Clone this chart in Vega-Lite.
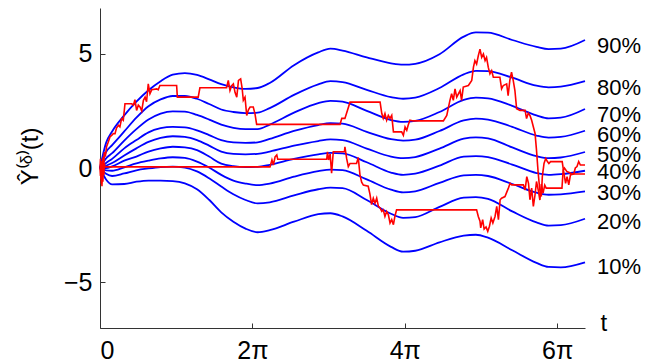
{
  "$schema": "https://vega.github.io/schema/vega-lite/v6.json",
  "width": 485,
  "height": 320,
  "autosize": "none",
  "padding": {"left": 100, "top": 8, "right": 80, "bottom": 34},
  "background": "white",
  "config": {
    "view": {"stroke": null},
    "font": "Liberation Sans",
    "axis": {"grid": false, "domainColor": "#333333", "tickColor": "#333333", "labelColor": "black", "titleColor": "black", "labelFont": "Liberation Sans", "titleFont": "Liberation Sans", "labelFontSize": 25, "titleFontSize": 24, "titleFontWeight": "normal", "tickSize": -5, "labelPadding": 14}
  },
  "datasets": {
    "quant": [
      {"t": 0, "q90": 0, "q80": 0, "q70": 0, "q60": 0, "q50": 0, "q40": 0, "q30": 0, "q20": 0, "q10": 0},
      {"t": 0.25, "q90": 1.1, "q80": 0.7, "q70": 0.42, "q60": 0.22, "q50": 0.1, "q40": 0.0, "q30": -0.1, "q20": -0.25, "q10": -0.5},
      {"t": 0.5, "q90": 1.6, "q80": 1.0, "q70": 0.65, "q60": 0.4, "q50": 0.22, "q40": 0.07, "q30": -0.12, "q20": -0.35, "q10": -0.72},
      {"t": 1, "q90": 2.3, "q80": 1.6, "q70": 1.2, "q60": 0.86, "q50": 0.55, "q40": 0.32, "q30": 0.03, "q20": -0.24, "q10": -0.7},
      {"t": 1.5, "q90": 2.9, "q80": 2.2, "q70": 1.7, "q60": 1.22, "q50": 0.86, "q40": 0.5, "q30": 0.2, "q20": -0.1, "q10": -0.6},
      {"t": 2, "q90": 3.4, "q80": 2.7, "q70": 2.12, "q60": 1.56, "q50": 1.14, "q40": 0.72, "q30": 0.32, "q20": -0.02, "q10": -0.55},
      {"t": 2.5, "q90": 3.8, "q80": 3.0, "q70": 2.38, "q60": 1.74, "q50": 1.32, "q40": 0.86, "q30": 0.42, "q20": 0.04, "q10": -0.55},
      {"t": 3, "q90": 4.08, "q80": 3.15, "q70": 2.48, "q60": 1.8, "q50": 1.39, "q40": 0.93, "q30": 0.47, "q20": 0.06, "q10": -0.57},
      {"t": 3.5, "q90": 4.15, "q80": 3.15, "q70": 2.47, "q60": 1.78, "q50": 1.36, "q40": 0.9, "q30": 0.44, "q20": 0.02, "q10": -0.67},
      {"t": 4, "q90": 4.07, "q80": 3.03, "q70": 2.32, "q60": 1.65, "q50": 1.22, "q40": 0.78, "q30": 0.28, "q20": -0.15, "q10": -0.93},
      {"t": 4.5, "q90": 3.88, "q80": 2.8, "q70": 2.12, "q60": 1.44, "q50": 0.98, "q40": 0.5, "q30": 0.02, "q20": -0.45, "q10": -1.39},
      {"t": 5, "q90": 3.67, "q80": 2.56, "q70": 1.9, "q60": 1.22, "q50": 0.72, "q40": 0.19, "q30": -0.3, "q20": -0.81, "q10": -1.94},
      {"t": 5.5, "q90": 3.53, "q80": 2.45, "q70": 1.76, "q60": 1.12, "q50": 0.62, "q40": 0.08, "q30": -0.55, "q20": -1.15, "q10": -2.35},
      {"t": 6, "q90": 3.46, "q80": 2.4, "q70": 1.7, "q60": 1.1, "q50": 0.6, "q40": 0.04, "q30": -0.68, "q20": -1.4, "q10": -2.65},
      {"t": 6.5, "q90": 3.5, "q80": 2.42, "q70": 1.7, "q60": 1.12, "q50": 0.62, "q40": 0.05, "q30": -0.75, "q20": -1.55, "q10": -2.81},
      {"t": 7, "q90": 3.72, "q80": 2.62, "q70": 1.9, "q60": 1.27, "q50": 0.72, "q40": 0.14, "q30": -0.68, "q20": -1.5, "q10": -2.72},
      {"t": 8, "q90": 4.5, "q80": 3.2, "q70": 2.42, "q60": 1.62, "q50": 0.98, "q40": 0.4, "q30": -0.38, "q20": -1.2, "q10": -2.35},
      {"t": 9, "q90": 5.06, "q80": 3.66, "q70": 2.84, "q60": 1.88, "q50": 1.18, "q40": 0.6, "q30": -0.14, "q20": -0.93, "q10": -2.02},
      {"t": 9.5, "q90": 5.22, "q80": 3.8, "q70": 2.94, "q60": 1.96, "q50": 1.25, "q40": 0.66, "q30": -0.07, "q20": -0.86, "q10": -1.98},
      {"t": 10, "q90": 5.14, "q80": 3.76, "q70": 2.9, "q60": 1.94, "q50": 1.22, "q40": 0.64, "q30": -0.09, "q20": -0.88, "q10": -2.12},
      {"t": 11, "q90": 4.84, "q80": 3.42, "q70": 2.5, "q60": 1.58, "q50": 0.85, "q40": 0.25, "q30": -0.5, "q20": -1.4, "q10": -2.75},
      {"t": 12, "q90": 4.58, "q80": 3.1, "q70": 2.1, "q60": 1.26, "q50": 0.5, "q40": -0.2, "q30": -0.95, "q20": -2.0, "q10": -3.45},
      {"t": 12.5, "q90": 4.52, "q80": 3.03, "q70": 2.02, "q60": 1.2, "q50": 0.43, "q40": -0.3, "q30": -1.07, "q20": -2.18, "q10": -3.66},
      {"t": 13, "q90": 4.56, "q80": 3.08, "q70": 2.06, "q60": 1.24, "q50": 0.48, "q40": -0.25, "q30": -1.02, "q20": -2.15, "q10": -3.62},
      {"t": 14, "q90": 4.98, "q80": 3.5, "q70": 2.45, "q60": 1.62, "q50": 0.85, "q40": 0.1, "q30": -0.65, "q20": -1.7, "q10": -3.25},
      {"t": 15, "q90": 5.75, "q80": 4.1, "q70": 2.98, "q60": 2.08, "q50": 1.28, "q40": 0.5, "q30": -0.32, "q20": -1.3, "q10": -2.96},
      {"t": 15.5, "q90": 5.93, "q80": 4.25, "q70": 3.08, "q60": 2.16, "q50": 1.34, "q40": 0.52, "q30": -0.3, "q20": -1.27, "q10": -2.92},
      {"t": 16, "q90": 5.92, "q80": 4.24, "q70": 3.05, "q60": 2.12, "q50": 1.3, "q40": 0.48, "q30": -0.35, "q20": -1.35, "q10": -3.05},
      {"t": 17, "q90": 5.6, "q80": 3.95, "q70": 2.72, "q60": 1.8, "q50": 0.9, "q40": 0.15, "q30": -0.7, "q20": -1.9, "q10": -3.6},
      {"t": 18, "q90": 5.3, "q80": 3.6, "q70": 2.3, "q60": 1.42, "q50": 0.52, "q40": -0.22, "q30": -1.08, "q20": -2.38, "q10": -4.15},
      {"t": 18.5, "q90": 5.2, "q80": 3.53, "q70": 2.17, "q60": 1.33, "q50": 0.43, "q40": -0.3, "q30": -1.17, "q20": -2.52, "q10": -4.33},
      {"t": 19, "q90": 5.22, "q80": 3.56, "q70": 2.2, "q60": 1.36, "q50": 0.46, "q40": -0.27, "q30": -1.15, "q20": -2.5, "q10": -4.35},
      {"t": 20, "q90": 5.6, "q80": 3.8, "q70": 2.58, "q60": 1.63, "q50": 0.7, "q40": -0.12, "q30": -1.02, "q20": -2.22, "q10": -4.13}
    ],
    "paths": [
      {"p": "A", "t": 0, "v": 0}, {"p": "A", "t": 0.02, "v": -0.35}, {"p": "A", "t": 0.04, "v": 0.3}, {"p": "A", "t": 0.06, "v": -0.7}, {"p": "A", "t": 0.08, "v": 0.1}, {"p": "A", "t": 0.1, "v": -0.5}, {"p": "A", "t": 0.12, "v": 0.45}, {"p": "A", "t": 0.15, "v": 0.1}, {"p": "A", "t": 0.18, "v": 0.7}, {"p": "A", "t": 0.22, "v": 0.5}, {"p": "A", "t": 0.27, "v": 0.93}, {"p": "A", "t": 0.33, "v": 1.1}, {"p": "A", "t": 0.41, "v": 1.36}, {"p": "A", "t": 0.5, "v": 1.45}, {"p": "A", "t": 0.55, "v": 1.51}, {"p": "A", "t": 0.62, "v": 1.5}, {"p": "A", "t": 0.68, "v": 1.75}, {"p": "A", "t": 0.76, "v": 1.87}, {"p": "A", "t": 0.82, "v": 1.8}, {"p": "A", "t": 0.89, "v": 2.16}, {"p": "A", "t": 0.96, "v": 2.09}, {"p": "A", "t": 1.03, "v": 2.81}, {"p": "A", "t": 1.31, "v": 2.81}, {"p": "A", "t": 1.38, "v": 2.75}, {"p": "A", "t": 1.44, "v": 2.99}, {"p": "A", "t": 1.51, "v": 2.52}, {"p": "A", "t": 1.58, "v": 2.75}, {"p": "A", "t": 1.65, "v": 2.67}, {"p": "A", "t": 1.72, "v": 2.5}, {"p": "A", "t": 1.79, "v": 2.96}, {"p": "A", "t": 1.86, "v": 3.1}, {"p": "A", "t": 1.92, "v": 2.9}, {"p": "A", "t": 1.99, "v": 3.68}, {"p": "A", "t": 2.06, "v": 3.25}, {"p": "A", "t": 2.13, "v": 3.42}, {"p": "A", "t": 2.34, "v": 3.46}, {"p": "A", "t": 2.4, "v": 3.42}, {"p": "A", "t": 2.47, "v": 3.61}, {"p": "A", "t": 3.16, "v": 3.61}, {"p": "A", "t": 3.19, "v": 3.1}, {"p": "A", "t": 4.05, "v": 3.1}, {"p": "A", "t": 4.12, "v": 3.51}, {"p": "A", "t": 5.22, "v": 3.51}, {"p": "A", "t": 5.29, "v": 3.83}, {"p": "A", "t": 5.36, "v": 3.39}, {"p": "A", "t": 5.43, "v": 3.6}, {"p": "A", "t": 5.5, "v": 3.68}, {"p": "A", "t": 5.57, "v": 3.3}, {"p": "A", "t": 5.64, "v": 3.1}, {"p": "A", "t": 5.71, "v": 3.83}, {"p": "A", "t": 5.8, "v": 3.9}, {"p": "A", "t": 5.86, "v": 3.5}, {"p": "A", "t": 5.91, "v": 2.96}, {"p": "A", "t": 5.98, "v": 3.1}, {"p": "A", "t": 6.05, "v": 2.3}, {"p": "A", "t": 6.12, "v": 2.55}, {"p": "A", "t": 6.19, "v": 2.67}, {"p": "A", "t": 6.32, "v": 2.67}, {"p": "A", "t": 6.39, "v": 2.38}, {"p": "A", "t": 6.46, "v": 1.91}, {"p": "A", "t": 9.9, "v": 1.91}, {"p": "A", "t": 9.97, "v": 2.17}, {"p": "A", "t": 10.1, "v": 2.17}, {"p": "A", "t": 10.31, "v": 2.88}, {"p": "A", "t": 11.55, "v": 2.88}, {"p": "A", "t": 11.62, "v": 2.38}, {"p": "A", "t": 11.68, "v": 2.17}, {"p": "A", "t": 11.75, "v": 2.38}, {"p": "A", "t": 11.82, "v": 2.09}, {"p": "A", "t": 11.89, "v": 2.3}, {"p": "A", "t": 11.96, "v": 2.17}, {"p": "A", "t": 12.03, "v": 2.3}, {"p": "A", "t": 12.1, "v": 1.58}, {"p": "A", "t": 12.44, "v": 1.58}, {"p": "A", "t": 12.51, "v": 1.43}, {"p": "A", "t": 12.58, "v": 1.8}, {"p": "A", "t": 12.65, "v": 1.65}, {"p": "A", "t": 12.71, "v": 1.88}, {"p": "A", "t": 12.78, "v": 2.09}, {"p": "A", "t": 12.92, "v": 2.06}, {"p": "A", "t": 14.16, "v": 2.06}, {"p": "A", "t": 14.3, "v": 2.3}, {"p": "A", "t": 14.43, "v": 2.96}, {"p": "A", "t": 14.5, "v": 3.25}, {"p": "A", "t": 14.57, "v": 2.96}, {"p": "A", "t": 14.64, "v": 3.46}, {"p": "A", "t": 14.71, "v": 3.1}, {"p": "A", "t": 14.85, "v": 3.39}, {"p": "A", "t": 14.91, "v": 2.96}, {"p": "A", "t": 14.98, "v": 3.54}, {"p": "A", "t": 15.19, "v": 3.61}, {"p": "A", "t": 15.33, "v": 3.83}, {"p": "A", "t": 15.4, "v": 4.41}, {"p": "A", "t": 15.46, "v": 4.7}, {"p": "A", "t": 15.53, "v": 4.55}, {"p": "A", "t": 15.6, "v": 4.91}, {"p": "A", "t": 15.67, "v": 5.2}, {"p": "A", "t": 15.74, "v": 4.84}, {"p": "A", "t": 15.81, "v": 4.99}, {"p": "A", "t": 15.88, "v": 4.7}, {"p": "A", "t": 15.94, "v": 4.84}, {"p": "A", "t": 16.01, "v": 4.41}, {"p": "A", "t": 16.08, "v": 4.12}, {"p": "A", "t": 16.15, "v": 4.26}, {"p": "A", "t": 16.22, "v": 3.97}, {"p": "A", "t": 16.49, "v": 3.97}, {"p": "A", "t": 16.56, "v": 3.46}, {"p": "A", "t": 16.63, "v": 3.61}, {"p": "A", "t": 16.77, "v": 3.68}, {"p": "A", "t": 16.83, "v": 3.17}, {"p": "A", "t": 16.9, "v": 3.83}, {"p": "A", "t": 16.97, "v": 4.19}, {"p": "A", "t": 17.04, "v": 3.83}, {"p": "A", "t": 17.11, "v": 3.39}, {"p": "A", "t": 17.18, "v": 2.59}, {"p": "A", "t": 17.32, "v": 2.52}, {"p": "A", "t": 17.53, "v": 2.52}, {"p": "A", "t": 17.59, "v": 2.16}, {"p": "A", "t": 17.66, "v": 2.4}, {"p": "A", "t": 17.73, "v": 2.3}, {"p": "A", "t": 17.8, "v": 2.09}, {"p": "A", "t": 17.94, "v": 1.51}, {"p": "A", "t": 18.0, "v": 0.78}, {"p": "A", "t": 18.07, "v": -0.23}, {"p": "A", "t": 18.14, "v": -1.0}, {"p": "A", "t": 18.2, "v": -1.25}, {"p": "A", "t": 18.24, "v": -0.38}, {"p": "A", "t": 18.31, "v": 0.2}, {"p": "A", "t": 18.38, "v": 0.42}, {"p": "A", "t": 18.45, "v": 0.28}, {"p": "A", "t": 18.51, "v": 0.2}, {"p": "A", "t": 18.58, "v": 0.28}, {"p": "A", "t": 19.06, "v": 0.28}, {"p": "A", "t": 19.13, "v": -0.23}, {"p": "A", "t": 19.2, "v": -0.67}, {"p": "A", "t": 19.26, "v": -0.38}, {"p": "A", "t": 19.33, "v": -0.74}, {"p": "A", "t": 19.4, "v": -0.3}, {"p": "A", "t": 19.54, "v": -0.26}, {"p": "A", "t": 19.6, "v": 0}, {"p": "A", "t": 19.67, "v": 0.06}, {"p": "A", "t": 19.74, "v": 0.28}, {"p": "A", "t": 19.81, "v": 0.13}, {"p": "A", "t": 20.0, "v": 0.13},
      {"p": "B", "t": 0, "v": 0}, {"p": "B", "t": 0.02, "v": 0.4}, {"p": "B", "t": 0.04, "v": -0.5}, {"p": "B", "t": 0.06, "v": -0.2}, {"p": "B", "t": 0.08, "v": -0.8}, {"p": "B", "t": 0.1, "v": 0.3}, {"p": "B", "t": 0.12, "v": -0.6}, {"p": "B", "t": 0.14, "v": 0.5}, {"p": "B", "t": 0.16, "v": -0.3}, {"p": "B", "t": 0.18, "v": 0.2}, {"p": "B", "t": 0.2, "v": 0.05}, {"p": "B", "t": 7.01, "v": 0.05}, {"p": "B", "t": 7.09, "v": 0.35}, {"p": "B", "t": 7.15, "v": 0.13}, {"p": "B", "t": 7.22, "v": 0.49}, {"p": "B", "t": 7.29, "v": 0.57}, {"p": "B", "t": 7.33, "v": 0.38}, {"p": "B", "t": 9.35, "v": 0.38}, {"p": "B", "t": 9.38, "v": 0.71}, {"p": "B", "t": 9.43, "v": 0.35}, {"p": "B", "t": 9.49, "v": 0.61}, {"p": "B", "t": 9.55, "v": -0.23}, {"p": "B", "t": 9.62, "v": 0.71}, {"p": "B", "t": 10.08, "v": 0.71}, {"p": "B", "t": 10.1, "v": 0.93}, {"p": "B", "t": 10.17, "v": 0.42}, {"p": "B", "t": 10.24, "v": 0.06}, {"p": "B", "t": 10.31, "v": 0.2}, {"p": "B", "t": 10.58, "v": 0.2}, {"p": "B", "t": 10.65, "v": 0.46}, {"p": "B", "t": 10.72, "v": -0.3}, {"p": "B", "t": 10.79, "v": -0.62}, {"p": "B", "t": 10.86, "v": -0.75}, {"p": "B", "t": 11.06, "v": -0.8}, {"p": "B", "t": 11.13, "v": -1.13}, {"p": "B", "t": 11.2, "v": -1.6}, {"p": "B", "t": 11.27, "v": -1.32}, {"p": "B", "t": 11.34, "v": -1.54}, {"p": "B", "t": 11.41, "v": -1.32}, {"p": "B", "t": 11.48, "v": -1.68}, {"p": "B", "t": 11.55, "v": -1.75}, {"p": "B", "t": 11.62, "v": -1.9}, {"p": "B", "t": 11.68, "v": -1.83}, {"p": "B", "t": 11.75, "v": -2.12}, {"p": "B", "t": 11.82, "v": -1.9}, {"p": "B", "t": 11.89, "v": -2.04}, {"p": "B", "t": 11.96, "v": -2.41}, {"p": "B", "t": 12.03, "v": -2.26}, {"p": "B", "t": 12.1, "v": -2.48}, {"p": "B", "t": 12.16, "v": -2.12}, {"p": "B", "t": 12.23, "v": -1.83}, {"p": "B", "t": 15.53, "v": -1.83}, {"p": "B", "t": 15.6, "v": -2.12}, {"p": "B", "t": 15.67, "v": -2.33}, {"p": "B", "t": 15.7, "v": -2.62}, {"p": "B", "t": 15.78, "v": -2.26}, {"p": "B", "t": 15.84, "v": -2.67}, {"p": "B", "t": 15.92, "v": -2.58}, {"p": "B", "t": 15.99, "v": -2.77}, {"p": "B", "t": 16.06, "v": -2.55}, {"p": "B", "t": 16.13, "v": -2.19}, {"p": "B", "t": 16.2, "v": -2.41}, {"p": "B", "t": 16.29, "v": -2.12}, {"p": "B", "t": 16.36, "v": -1.68}, {"p": "B", "t": 16.43, "v": -2.26}, {"p": "B", "t": 16.5, "v": -1.39}, {"p": "B", "t": 16.56, "v": -1.32}, {"p": "B", "t": 16.7, "v": -1.25}, {"p": "B", "t": 16.84, "v": -0.88}, {"p": "B", "t": 16.91, "v": -0.67}, {"p": "B", "t": 16.98, "v": -0.74}, {"p": "B", "t": 17.46, "v": -0.74}, {"p": "B", "t": 17.53, "v": -0.96}, {"p": "B", "t": 17.6, "v": -0.38}, {"p": "B", "t": 17.67, "v": -0.67}, {"p": "B", "t": 17.73, "v": -1.39}, {"p": "B", "t": 17.8, "v": -0.88}, {"p": "B", "t": 17.87, "v": -1.68}, {"p": "B", "t": 17.94, "v": -1.17}, {"p": "B", "t": 18.0, "v": -0.59}, {"p": "B", "t": 18.07, "v": -0.96}, {"p": "B", "t": 18.14, "v": -1.4}, {"p": "B", "t": 18.2, "v": -0.7}, {"p": "B", "t": 18.27, "v": -1.1}, {"p": "B", "t": 18.34, "v": -0.75}, {"p": "B", "t": 18.4, "v": -0.88}, {"p": "B", "t": 19.05, "v": -0.88}, {"p": "B", "t": 19.1, "v": -0.09}, {"p": "B", "t": 19.15, "v": 0.0}, {"p": "B", "t": 19.25, "v": -0.15}, {"p": "B", "t": 19.35, "v": -0.2}, {"p": "B", "t": 19.45, "v": -0.26}, {"p": "B", "t": 20.0, "v": -0.26}
    ],
    "labels": [
      {"label": "90%", "t": 20, "v": 5.35},
      {"label": "80%", "t": 20, "v": 3.52},
      {"label": "70%", "t": 20, "v": 2.3},
      {"label": "60%", "t": 20, "v": 1.43},
      {"label": "50%", "t": 20, "v": 0.57},
      {"label": "40%", "t": 20, "v": -0.17},
      {"label": "30%", "t": 20, "v": -1.09},
      {"label": "20%", "t": 20, "v": -2.35},
      {"label": "10%", "t": 20, "v": -4.35}
    ]
  },
  "layer": [
    {
      "data": {"name": "quant"},
      "transform": [{"fold": ["q90", "q80", "q70", "q60", "q50", "q40", "q30", "q20", "q10"], "as": ["q", "val"]}],
      "mark": {"type": "line", "color": "#0000ff", "strokeWidth": 1.8, "interpolate": "monotone"},
      "encoding": {
        "x": {"field": "t", "type": "quantitative", "scale": {"domain": [0, 20], "nice": false},
          "axis": {"values": [0, 6.283185, 12.566371, 18.849556], "labelExpr": "datum.value < 1 ? '0' : datum.value < 7 ? '2π' : datum.value < 13 ? '4π' : '6π'", "labelPadding": 15, "title": "t", "titleAnchor": "start", "titleAlign": "left", "titleX": 500, "titleY": -5, "titleBaseline": "middle"}},
        "y": {"field": "val", "type": "quantitative", "scale": {"domain": [-7, 7], "nice": false},
          "axis": {"values": [-5, 0, 5], "labelPadding": 13, "title": "Ŷ⁽ᵟ⁾(t)", "titleX": -70, "titleY": 148, "titleAnchor": "middle", "titleAngle": -90, "titleBaseline": "middle", "titleAlign": "center"}},
        "detail": {"field": "q", "type": "nominal"}
      }
    },
    {
      "data": {"name": "paths"},
      "mark": {"type": "line", "color": "#ff0000", "strokeWidth": 1.6},
      "encoding": {
        "x": {"field": "t", "type": "quantitative"},
        "y": {"field": "v", "type": "quantitative"},
        "detail": {"field": "p", "type": "nominal"}
      }
    },
    {
      "data": {"name": "labels"},
      "mark": {"type": "text", "align": "left", "baseline": "middle", "dx": 12, "fontSize": 22, "font": "Liberation Sans", "color": "black"},
      "encoding": {
        "x": {"field": "t", "type": "quantitative"},
        "y": {"field": "v", "type": "quantitative"},
        "text": {"field": "label"}
      }
    }
  ]
}
